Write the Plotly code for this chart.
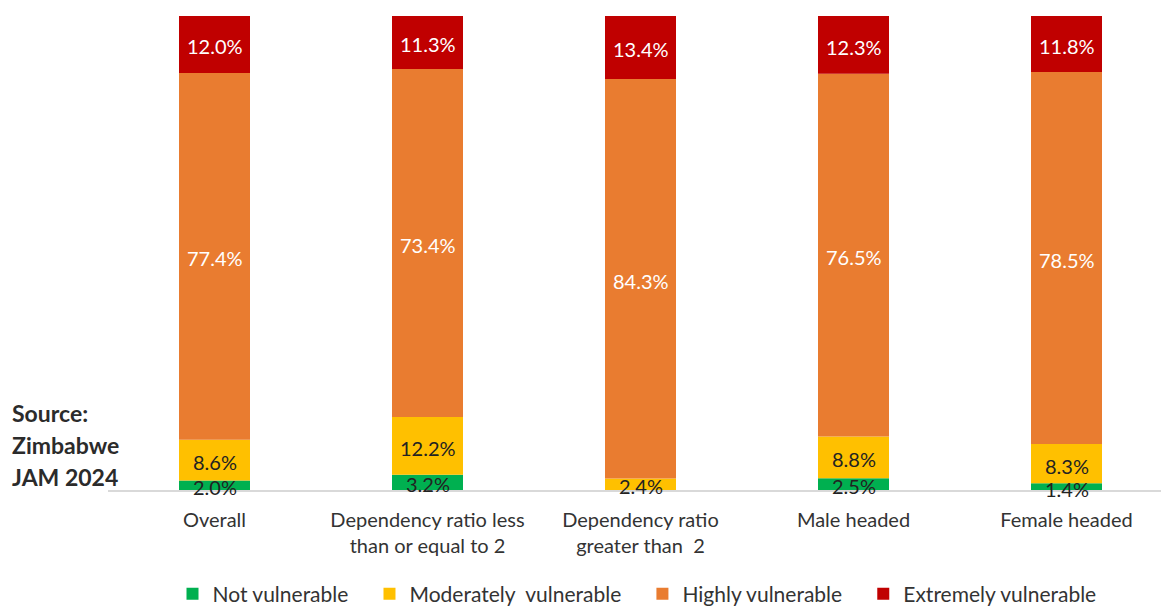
import plotly.graph_objects as go

categories = [
    "Overall",
    "Dependency ratio less<br>than or equal to 2",
    "Dependency ratio<br>greater than  2",
    "Male headed",
    "Female headed",
]
not_vulnerable = [2.0, 3.2, 0.0, 2.5, 1.4]
moderately_vulnerable = [8.6, 12.2, 2.4, 8.8, 8.3]
highly_vulnerable = [77.4, 73.4, 84.3, 76.5, 78.5]
extremely_vulnerable = [12.0, 11.3, 13.4, 12.3, 11.8]

series = [
    ("Not vulnerable", not_vulnerable, "#00B050", "#222222"),
    ("Moderately  vulnerable", moderately_vulnerable, "#FFC000", "#222222"),
    ("Highly vulnerable", highly_vulnerable, "#E97C30", "#FFFFFF"),
    ("Extremely vulnerable", extremely_vulnerable, "#C00000", "#FFFFFF"),
]

W, H = 1161, 606
ML, MR, MT, MB = 108, 0, 16, 116
band = 213.0
plot_w = W - ML - MR
plot_h = H - MT - MB
x_max = -0.5 + plot_w / band

FONT = "Lato, Open Sans, sans-serif"
PAD = "\u00a0" * 3  # extra room between legend entries

fig = go.Figure()
base = [0.0] * len(categories)
for name, vals, color, txtcolor in series:
    fig.add_trace(go.Bar(
        name=name + PAD, x=list(range(len(categories))), y=vals, base=base,
        marker=dict(color=color, line=dict(width=0)),
        width=71 / band, hoverinfo="skip",
    ))
    # value labels centred on each segment
    for i, (b, v) in enumerate(zip(base, vals)):
        if v > 0:
            fig.add_annotation(
                x=i, y=b + v / 2, text=f"{v:.1f}%", showarrow=False,
                xanchor="center", yanchor="middle", yshift=-2,
                font=dict(family=FONT, size=20, color=txtcolor),
            )
    base = [b + v for b, v in zip(base, vals)]

# Source note in the lower-left corner
for k, line in enumerate(["Source:", "Zimbabwe", "JAM 2024"]):
    y_px = 413 + 32 * k
    fig.add_annotation(
        xref="paper", yref="paper",
        x=(10 - ML) / plot_w, y=(H - MB - y_px) / plot_h,
        xanchor="left", yanchor="middle", showarrow=False,
        text=f"<b>{line}</b>", font=dict(family=FONT, size=23, color="#2b2b2b"),
    )

fig.update_layout(
    width=W, height=H,
    margin=dict(l=ML, r=MR, t=MT, b=MB, autoexpand=False),
    barmode="overlay",
    plot_bgcolor="white", paper_bgcolor="white",
    font=dict(family=FONT, size=20, color="#333333"),
    xaxis=dict(
        tickmode="array", tickvals=list(range(len(categories))), ticktext=categories,
        range=[-0.5, x_max], showgrid=False, zeroline=False,
        showline=True, linecolor="#D9D9D9", linewidth=1.5, ticks="",
        ticklabelstandoff=11,
        tickfont=dict(family=FONT, size=20, color="#333333"),
    ),
    yaxis=dict(range=[0, 100], visible=False, showgrid=False),
    legend=dict(
        orientation="h", x=(645 - ML) / plot_w, xanchor="center",
        yref="container", y=(H - 594) / H, yanchor="middle",
        font=dict(family=FONT, size=21, color="#333333"),
        itemwidth=30, traceorder="normal",
    ),
    showlegend=True,
)

fig.write_html("out.html")
